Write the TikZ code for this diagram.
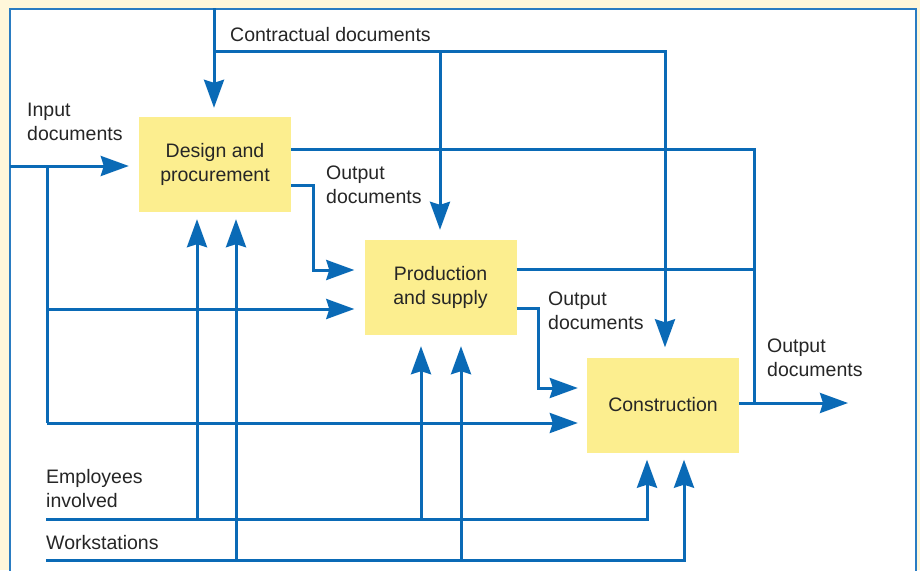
\documentclass[tikz,border=0pt]{standalone}
\usepackage{fontspec}
\setmainfont{Liberation Sans}
\usetikzlibrary{arrows.meta}
\definecolor{lineblue}{HTML}{0A6AB6}
\definecolor{frameblue}{HTML}{2A7CC2}
\definecolor{boxyellow}{HTML}{FCEE8F}
\definecolor{bgyellow}{HTML}{FFF7DA}
\tikzset{
  conn/.style={draw=lineblue, line width=3pt},
  arr/.style={conn, -{Stealth[length=28pt,width=20pt,inset=3pt]}},
  procbox/.style={fill=boxyellow, minimum width=152pt, minimum height=95pt, inner sep=0pt, align=center, font=\fontsize{19.5}{23.5}\selectfont, text=black!85},
  lbl/.style={inner sep=0pt, align=left, font=\fontsize{19.5}{23.5}\selectfont, text=black!85, anchor=base west},
}
\begin{document}
\begin{tikzpicture}[x=1pt,y=-1pt]
\useasboundingbox (0,0) rectangle (920,570);
\fill[bgyellow] (0,0) rectangle (920,570);
\draw[frameblue, line width=2pt, fill=white] (10,600) -- (10,8.5) -- (916,8.5) -- (916,600);

% process boxes
\node[procbox] (dp) at (215,164.5) {Design and\\procurement};
\node[procbox] (ps) at (440.5,287.5) {Production\\and supply};
\node[procbox] (cn) at (663,405) {Construction};

% named coordinates
\coordinate (ctop) at (214,8);
\coordinate (cj) at (214,51);
\coordinate (cp) at (440,51);
\coordinate (cc) at (665,51);
\coordinate (inl) at (10,166);
\coordinate (inv) at (47,166);
\coordinate (inp) at (47,309);
\coordinate (inc) at (47,423);
\coordinate (ocol) at (754,149);
\coordinate (ojoin) at (754,403);
\coordinate (oend) at (848,403);
\coordinate (dpb) at (313,185);
\coordinate (psb) at (538,308);
\coordinate (empl) at (46,519);
\coordinate (work) at (46,560);
\coordinate (e1) at (197,519);
\coordinate (e2) at (421,519);
\coordinate (e3) at (647,519);
\coordinate (w1) at (236,560);
\coordinate (w2) at (461,560);
\coordinate (w3) at (684,560);

% contractual documents
\draw[arr, shorten >=9pt] (ctop) -- (dp.north -| ctop);
\draw[arr, shorten >=10pt] (cj) -- (cc) -- (cn.north -| cc);
\draw[arr, shorten >=10pt] (cp) -- (ps.north -| cp);

% input documents
\draw[arr, shorten >=10pt] (inl) -- (dp.west |- inl);
\draw[conn] (inv) -- (inc);
\draw[arr, shorten >=10pt] (inp) -- (ps.west |- inp);
\draw[arr, shorten >=9pt] (inc) -- (cn.west |- inc);

% outputs to the right column
\draw[conn] (dp.east |- ocol) -- (ocol) -- (ojoin);
\draw[conn] (ps.east |- 0,269) -- (754,269);
\draw[arr] (cn.east |- ojoin) -- (oend);

% output documents passed on
\draw[arr, shorten >=10pt] (dp.east |- dpb) -- (dpb) -- (dpb |- 0,270) -- (ps.west |- 0,270);
\draw[arr, shorten >=9pt] (ps.east |- psb) -- (psb) -- (psb |- 0,388) -- (cn.west |- 0,388);

% employees and workstations
\draw[arr, shorten >=7pt] (empl) -- (e3) -- (cn.south -| e3);
\draw[arr, shorten >=7pt] (work) -- (w3) -- (cn.south -| w3);
\draw[arr, shorten >=7pt] (e1) -- (dp.south -| e1);
\draw[arr, shorten >=7pt] (w1) -- (dp.south -| w1);
\draw[arr, shorten >=11pt] (e2) -- (ps.south -| e2);
\draw[arr, shorten >=11pt] (w2) -- (ps.south -| w2);

% labels
\node[lbl] (lc) at (230,41) {Contractual documents};
\node[lbl] (li) at (27,140) {Input\\documents};
\node[lbl] (lo1) at (326,203) {Output\\documents};
\node[lbl] (lo2) at (548,329) {Output\\documents};
\node[lbl] (lo3) at (767,376) {Output\\documents};
\node[lbl] (le) at (46,507) {Employees\\involved};
\node[lbl] (lw) at (46,549) {Workstations};
\end{tikzpicture}
\end{document}
